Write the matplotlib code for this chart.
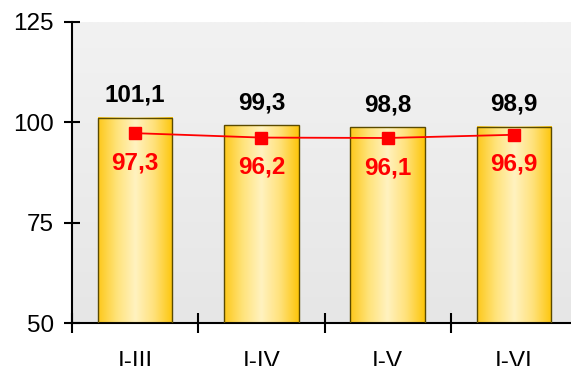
import numpy as np
import matplotlib.pyplot as plt
from matplotlib.colors import LinearSegmentedColormap

periods = ['I-III', 'I-IV', 'I-V', 'I-VI']
bar_values = [101.1, 99.3, 98.8, 98.9]
line_values = [97.3, 96.2, 96.1, 96.9]
y_ticks = [50, 75, 100, 125]

plt.rcParams['font.family'] = ['Liberation Sans', 'DejaVu Sans']

fig = plt.figure(figsize=(5.71, 3.66), dpi=100)
ax = fig.add_axes([72 / 571, 43 / 366, 499 / 571, 301 / 366])

ymin, ymax = 50, 125
xmin, xmax = 0, 499 / 126.3
ax.set_xlim(xmin, xmax)
ax.set_ylim(ymin, ymax)

# серый градиентный фон области построения
bg = LinearSegmentedColormap.from_list('bg', ['#e6e6e6', '#f2f2f2'])
ax.imshow(np.linspace(0, 1, 256).reshape(-1, 1), cmap=bg, aspect='auto',
          extent=[xmin, xmax, ymin, ymax], origin='lower', zorder=0)

# столбцы с горизонтальным золотым градиентом
gold = LinearSegmentedColormap.from_list(
    'gold', ['#fdc81a', '#ffe37a', '#fff2c0', '#ffe17a', '#fdc60a'])
x = np.arange(len(periods)) + 0.5
width = 0.59
grad = np.linspace(0, 1, 256).reshape(1, -1)
bars = ax.bar(x, [v - ymin for v in bar_values], width, bottom=ymin,
              facecolor='none', edgecolor='#5a4a00', linewidth=1.0, zorder=3)
for b in bars:
    x0, y0 = b.get_x(), b.get_y()
    ax.imshow(grad, cmap=gold, aspect='auto', zorder=2,
              extent=[x0, x0 + b.get_width(), y0, y0 + b.get_height()])

for xi, v in zip(x, bar_values):
    ax.text(xi, v + 5.6, f'{v:.1f}'.replace('.', ','), ha='center', va='center',
            fontsize=17.5, fontweight='bold', color='black', zorder=5)

# линия с квадратными маркерами
ax.plot(x, line_values, color='#ff0000', linewidth=1.3, marker='s',
        markersize=8, zorder=4)
for xi, v in zip(x, line_values):
    ax.text(xi, v - 7.4, f'{v:.1f}'.replace('.', ','), ha='center', va='center',
            fontsize=17.5, fontweight='bold', color='#ff0000', zorder=5)

ax.set_xlim(xmin, xmax)
ax.set_ylim(ymin, ymax)

ax.set_yticks(y_ticks)
ax.set_yticklabels([str(t) for t in y_ticks], fontsize=17.5)
ax.set_xticks([0, 1, 2, 3])
ax.set_xticklabels([])
ax.set_xticks(x, minor=True)
ax.set_xticklabels(periods, minor=True, fontsize=17.5)
ax.tick_params(axis='y', direction='inout', length=12, width=1.5, pad=7)
ax.tick_params(axis='x', which='major', direction='inout', length=14, width=1.5)
ax.tick_params(axis='x', which='minor', length=0, pad=20)

for side in ['top', 'right']:
    ax.spines[side].set_visible(False)
for side in ['left', 'bottom']:
    ax.spines[side].set_linewidth(1.5)

fig.savefig('out.png', dpi=100)
